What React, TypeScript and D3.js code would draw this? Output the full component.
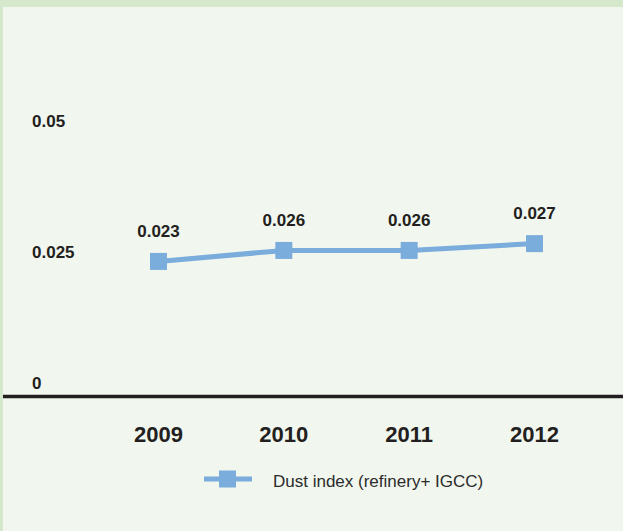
import React from "react";
import * as d3 from "d3";

const categories = ["2009", "2010", "2011", "2012"];
const dustValues = [0.0232, 0.0253, 0.0253, 0.0266];
const dustLabels = ["0.023", "0.026", "0.026", "0.027"];
const yTicks = [0, 0.025, 0.05];
const yTickLabels = ["0", "0.025", "0.05"];
const seriesName = "Dust index (refinery+ IGCC)";

const W = 623;
const H = 531;
const BLUE = "#7aacdc";
const TEXT = "#231f20";

export default function App() {
  const x = d3.scalePoint<string>().domain(categories).range([158.5, 534.5]);
  const y = d3.scaleLinear().domain([0, 0.05]).range([383, 121]);
  const line = d3
    .line<number>()
    .x((_, i) => x(categories[i]) as number)
    .y((d) => y(d));
  const axisY = y(0) + 13.5;
  const ms = 17;
  const font = "'Liberation Sans', Arial, sans-serif";

  return (
    <svg
      width={W}
      height={H}
      style={{ position: "absolute", left: 0, top: 0, display: "block" }}
      fontFamily={font}
    >
      <rect x={0} y={0} width={W} height={H} fill="#d5e8cc" />
      <rect x={3} y={7} width={W - 3} height={H - 7} fill="#f1f6ee" />

      {yTicks.map((t, i) => (
        <text
          key={t}
          x={32}
          y={y(t) + 6}
          fontSize={17}
          fontWeight="bold"
          fill={TEXT}
        >
          {yTickLabels[i]}
        </text>
      ))}

      <line x1={3} x2={W} y1={axisY} y2={axisY} stroke={TEXT} strokeWidth={3.5} />

      {categories.map((c) => (
        <text
          key={c}
          x={x(c)}
          y={axisY + 45.5}
          textAnchor="middle"
          fontSize={22}
          fontWeight="bold"
          fill={TEXT}
        >
          {c}
        </text>
      ))}

      <path d={line(dustValues) || ""} fill="none" stroke={BLUE} strokeWidth={5} />
      {dustValues.map((v, i) => (
        <rect
          key={i}
          x={(x(categories[i]) as number) - ms / 2}
          y={y(v) - ms / 2}
          width={ms}
          height={ms}
          fill={BLUE}
        />
      ))}
      {dustValues.map((v, i) => (
        <text
          key={"l" + i}
          x={x(categories[i])}
          y={y(v) - 24.5}
          textAnchor="middle"
          fontSize={17}
          fontWeight="bold"
          fill={TEXT}
        >
          {dustLabels[i]}
        </text>
      ))}

      <g transform="translate(204,479)">
        <line x1={0} x2={48} y1={0} y2={0} stroke={BLUE} strokeWidth={5} />
        <rect x={15} y={-8.5} width={17} height={17} fill={BLUE} />
        <text x={69} y={7.5} fontSize={17} fill="#2b2b2b">
          {seriesName}
        </text>
      </g>
    </svg>
  );
}
